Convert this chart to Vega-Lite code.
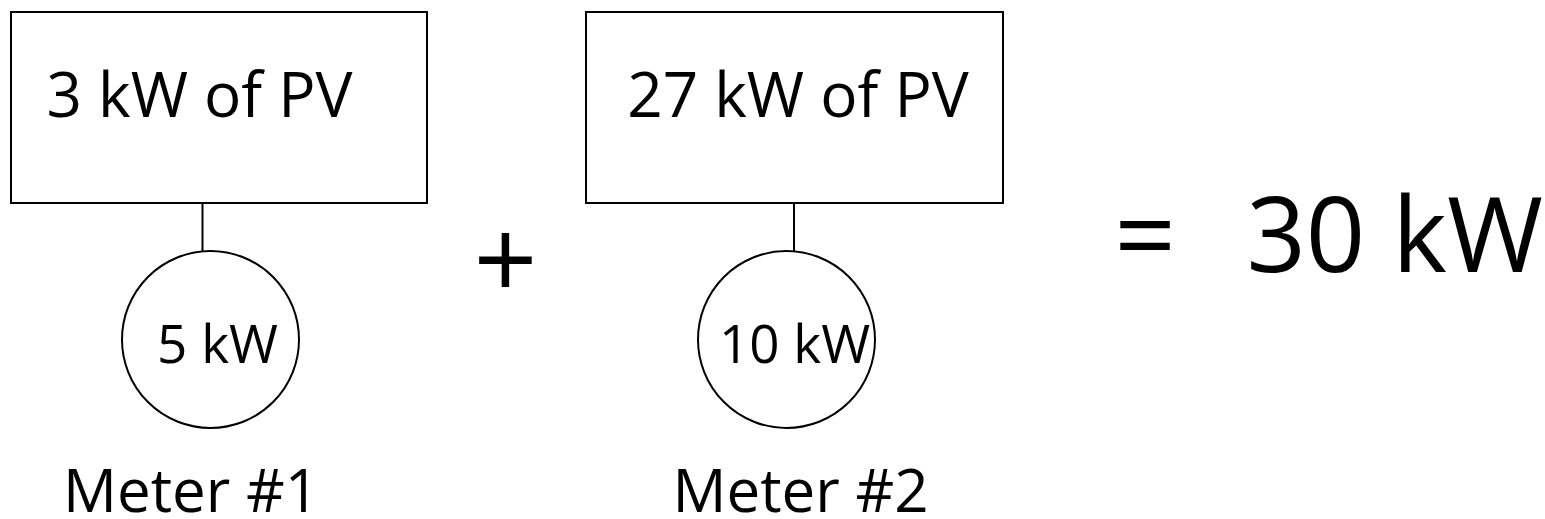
{
  "$schema": "https://vega.github.io/schema/vega-lite/v6.json",
  "width": 1545,
  "height": 519,
  "padding": 0,
  "autosize": {"type": "none"},
  "background": "white",
  "config": {"view": {"stroke": null}},
  "datasets": {
    "boxes": [
      {"name": "PV 1", "x": 11, "x2": 427, "y": 12, "y2": 203},
      {"name": "PV 2", "x": 586, "x2": 1003, "y": 12, "y2": 203}
    ],
    "links": [
      {"name": "link 1", "x": 202.5, "y": 203, "y2": 251},
      {"name": "link 2", "x": 794, "y": 203, "y2": 251}
    ],
    "meters": [
      {"name": "Meter #1", "x": 210.5, "y": 339.5},
      {"name": "Meter #2", "x": 786.5, "y": 339.5}
    ],
    "labels": [
      {"kind": "pv", "label": "3 kW of PV", "x": 199.5, "y": 117},
      {"kind": "pv", "label": "27 kW of PV", "x": 798, "y": 117},
      {"kind": "meter", "label": "5 kW", "x": 217.5, "y": 363},
      {"kind": "meter", "label": "10 kW", "x": 794.5, "y": 363},
      {"kind": "name", "label": "Meter #1", "x": 191, "y": 512},
      {"kind": "name", "label": "Meter #2", "x": 800.5, "y": 512},
      {"kind": "total", "label": "30 kW", "x": 1543, "y": 272},
      {"kind": "equals", "label": "=", "x": 1145, "y": 274},
      {"kind": "plus", "label": "+", "x": 505.5, "y": 300}
    ]
  },
  "encoding": {
    "x": {"field": "x", "type": "quantitative", "scale": {"domain": [0, 1545], "nice": false, "zero": false}, "axis": null},
    "y": {"field": "y", "type": "quantitative", "scale": {"domain": [519, 0], "nice": false, "zero": false}, "axis": null}
  },
  "layer": [
    {
      "data": {"name": "boxes"},
      "mark": {"type": "rect", "fill": "white", "stroke": "black", "strokeWidth": 2},
      "encoding": {
        "x2": {"field": "x2"},
        "y2": {"field": "y2"}
      }
    },
    {
      "data": {"name": "links"},
      "mark": {"type": "rule", "stroke": "black", "strokeWidth": 2},
      "encoding": {
        "y2": {"field": "y2"}
      }
    },
    {
      "data": {"name": "meters"},
      "mark": {"type": "point", "shape": "circle", "size": 31329, "filled": false, "fill": "white", "fillOpacity": 1, "stroke": "black", "strokeWidth": 2, "opacity": 1}
    },
    {
      "data": {"name": "labels"},
      "transform": [{"filter": "datum.kind === 'pv'"}],
      "mark": {"type": "text", "font": "Open Sans", "fontSize": 62, "align": "center", "baseline": "alphabetic", "color": "black"},
      "encoding": {"text": {"field": "label"}}
    },
    {
      "data": {"name": "labels"},
      "transform": [{"filter": "datum.kind === 'meter'"}],
      "mark": {"type": "text", "font": "Open Sans", "fontSize": 53, "align": "center", "baseline": "alphabetic", "color": "black"},
      "encoding": {"text": {"field": "label"}}
    },
    {
      "data": {"name": "labels"},
      "transform": [{"filter": "datum.kind === 'name'"}],
      "mark": {"type": "text", "font": "Open Sans", "fontSize": 60, "align": "center", "baseline": "alphabetic", "color": "black"},
      "encoding": {"text": {"field": "label"}}
    },
    {
      "data": {"name": "labels"},
      "transform": [{"filter": "datum.kind === 'total'"}],
      "mark": {"type": "text", "font": "Open Sans", "fontSize": 104, "align": "right", "baseline": "alphabetic", "color": "black"},
      "encoding": {"text": {"field": "label"}}
    },
    {
      "data": {"name": "labels"},
      "transform": [{"filter": "datum.kind === 'equals'"}],
      "mark": {"type": "text", "font": "Open Sans", "fontSize": 108, "align": "center", "baseline": "alphabetic", "color": "black"},
      "encoding": {"text": {"field": "label"}}
    },
    {
      "data": {"name": "labels"},
      "transform": [{"filter": "datum.kind === 'plus'"}],
      "mark": {"type": "text", "font": "Open Sans", "fontSize": 112, "align": "center", "baseline": "alphabetic", "color": "black"},
      "encoding": {"text": {"field": "label"}}
    }
  ]
}
